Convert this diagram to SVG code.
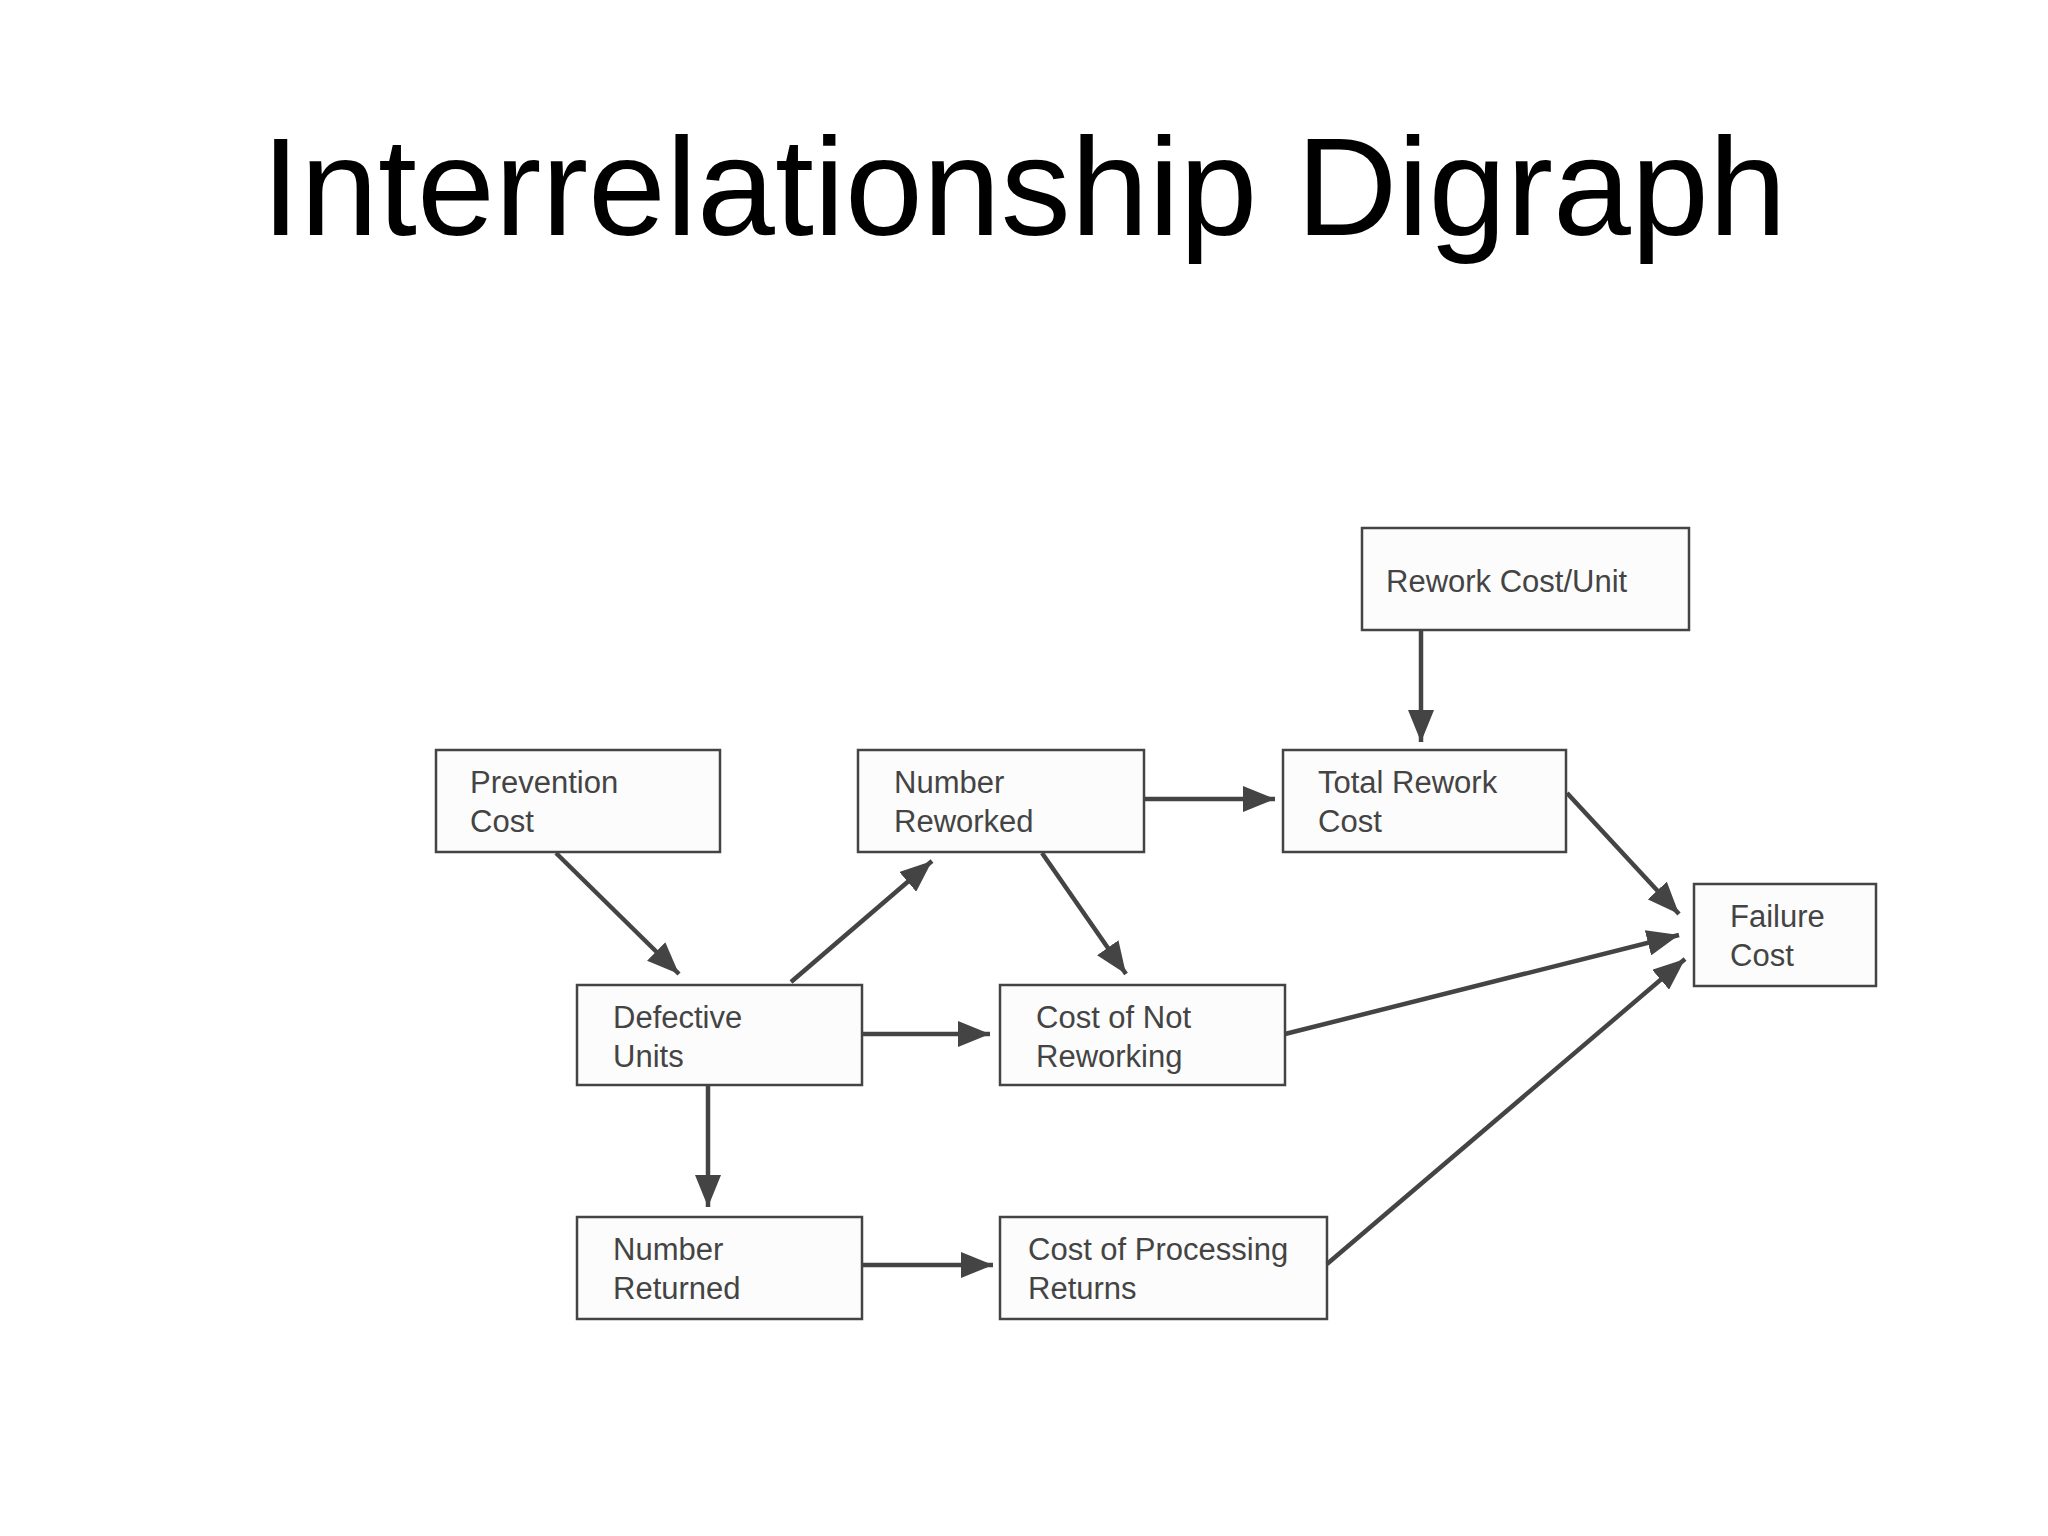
<svg xmlns="http://www.w3.org/2000/svg" width="2048" height="1536" viewBox="0 0 2048 1536">
<style>
.box{fill:#fcfcfc;stroke:#444;stroke-width:2.5}
.t{font-family:"Liberation Sans",Arial,sans-serif;font-size:31px;fill:#444}
.c{stroke:#444;stroke-width:4.5;fill:none;marker-end:url(#ah)}
</style>
<defs><marker id="ah" markerUnits="userSpaceOnUse" markerWidth="34" markerHeight="26" refX="32" refY="13" orient="auto"><path d="M0,0 L32,13 L0,26 Z" fill="#444"/></marker></defs>
<rect width="2048" height="1536" fill="#fff"/>
<text x="1024" y="235" text-anchor="middle" font-family="Liberation Sans,Arial,sans-serif" font-size="140" fill="#000">Interrelationship Digraph</text>
<g id="n-rework-unit"><rect class="box" x="1362" y="528" width="327" height="102"/><text class="t" x="1386" y="592">Rework Cost/Unit</text></g>
<g id="n-prevention"><rect class="box" x="436" y="750" width="284" height="102"/><text class="t" x="470" y="793">Prevention</text><text class="t" x="470" y="832">Cost</text></g>
<g id="n-num-reworked"><rect class="box" x="858" y="750" width="286" height="102"/><text class="t" x="894" y="793">Number</text><text class="t" x="894" y="832">Reworked</text></g>
<g id="n-total-rework"><rect class="box" x="1283" y="750" width="283" height="102"/><text class="t" x="1318" y="793">Total Rework</text><text class="t" x="1318" y="832">Cost</text></g>
<g id="n-failure"><rect class="box" x="1694" y="884" width="182" height="102"/><text class="t" x="1730" y="927">Failure</text><text class="t" x="1730" y="966">Cost</text></g>
<g id="n-defective"><rect class="box" x="577" y="985" width="285" height="100"/><text class="t" x="613" y="1028">Defective</text><text class="t" x="613" y="1067">Units</text></g>
<g id="n-cost-not"><rect class="box" x="1000" y="985" width="285" height="100"/><text class="t" x="1036" y="1028">Cost of Not</text><text class="t" x="1036" y="1067">Reworking</text></g>
<g id="n-num-returned"><rect class="box" x="577" y="1217" width="285" height="102"/><text class="t" x="613" y="1260">Number</text><text class="t" x="613" y="1299">Returned</text></g>
<g id="n-cost-proc"><rect class="box" x="1000" y="1217" width="327" height="102"/><text class="t" x="1028" y="1260">Cost of Processing</text><text class="t" x="1028" y="1299">Returns</text></g>
<g id="connectors">
<line class="c" x1="1421" y1="630" x2="1421" y2="742"/>
<line class="c" x1="556" y1="853" x2="679" y2="974"/>
<line class="c" x1="791" y1="982" x2="932" y2="861"/>
<line class="c" x1="1144" y1="799" x2="1275" y2="799"/>
<line class="c" x1="1042" y1="853" x2="1126" y2="974"/>
<line class="c" x1="862" y1="1034" x2="990" y2="1034"/>
<line class="c" x1="708" y1="1085" x2="708" y2="1207"/>
<line class="c" x1="862" y1="1265" x2="993" y2="1265"/>
<line class="c" x1="1567" y1="793" x2="1679" y2="914"/>
<line class="c" x1="1285" y1="1034" x2="1679" y2="935"/>
<line class="c" x1="1327" y1="1264" x2="1685" y2="959"/>
</g>
</svg>
